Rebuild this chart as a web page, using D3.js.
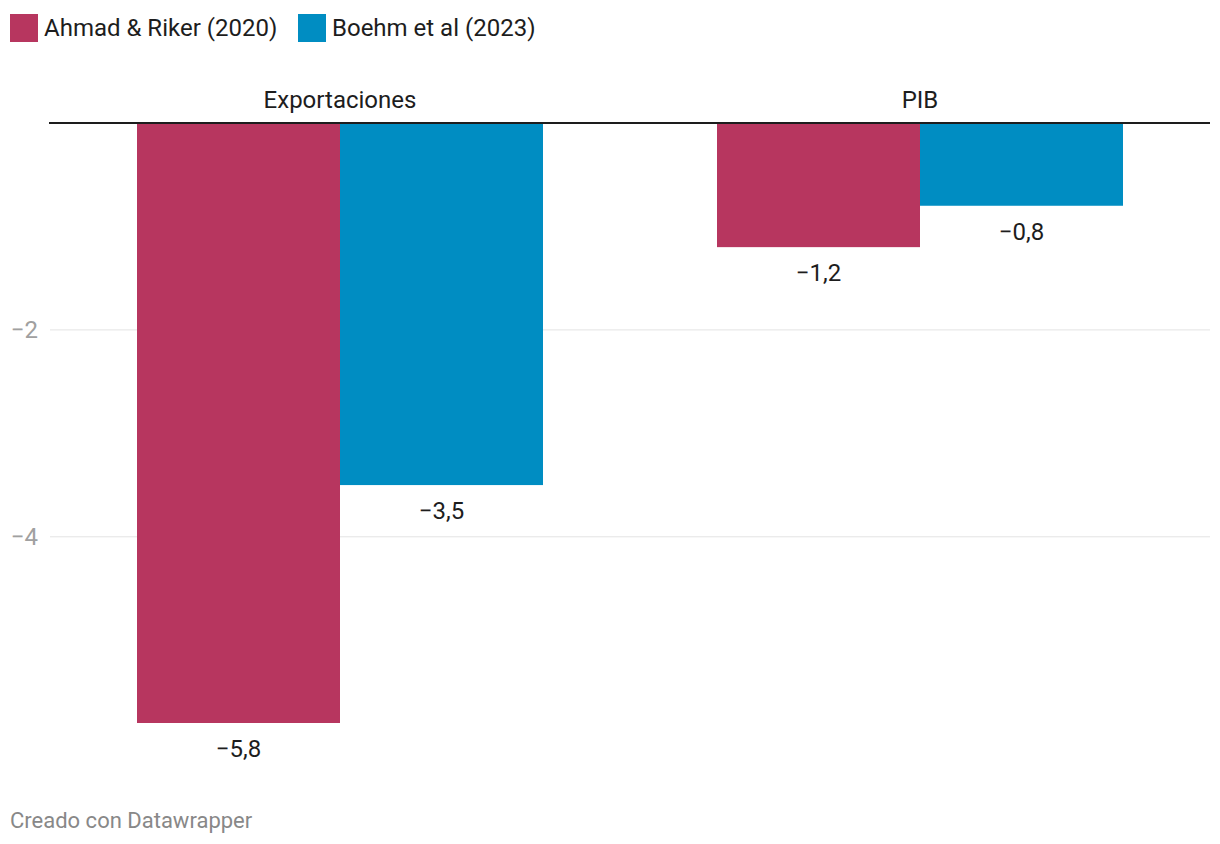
<!DOCTYPE html>
<html>
<head>
<style>
body { margin: 0; background: #fff; }
text { font-family: Roboto, sans-serif; }
</style>
</head>
<body>
<svg width="1220" height="844"></svg>
<script src="https://d3js.org/d3.v7.min.js"></script>
<script>

let categories = ['Exportaciones', 'PIB'];
let series = ['Ahmad & Riker (2020)', 'Boehm et al (2023)'];
let colors = ['#b7365f', '#008dc2'];
let values = [
    [-5.8, -1.2],   // Ahmad & Riker
    [-3.5, -0.8]    // Boehm et al
];
let tickValues = [-2, -4];

let svg = d3.select('svg');
let plotLeft = 50, plotRight = 1210, plotTop = 123;

let x = d3.scaleBand()
    .domain(categories)
    .range([plotLeft, plotRight])
    .paddingInner(0.3)
    .paddingOuter(0.15);

let xs = d3.scaleBand()
    .domain(series)
    .range([0, x.bandwidth()]);

let y = d3.scaleLinear()
    .domain([0, -5.8])
    .range([plotTop, plotTop + 600]);

let fmt = function(v) { return ('\u2212' + d3.format('.1f')(Math.abs(v))).replace('.', ','); };

// gridlines
svg.selectAll('line.grid').data(tickValues).join('line')
    .attr('class', 'grid')
    .attr('x1', plotLeft).attr('x2', plotRight)
    .attr('y1', d => y(d)).attr('y2', d => y(d))
    .attr('stroke', '#e3e3e3')
    .attr('stroke-width', 1);

svg.selectAll('text.tick').data(tickValues).join('text')
    .attr('class', 'tick')
    .attr('x', 38)
    .attr('y', d => y(d) + 8.5)
    .attr('text-anchor', 'end')
    .style('fill', '#a0a0a0')
    .style('font-size', '24px')
    .text(d => '\u2212' + Math.abs(d));

// bars
let rows = [];
series.forEach(function(s, si) {
    categories.forEach(function(c, ci) {
        rows.push({ series: s, si: si, cat: c, value: values[si][ci] });
    });
});

svg.selectAll('rect.bar').data(rows).join('rect')
    .attr('class', 'bar')
    .attr('x', d => x(d.cat) + xs(d.series))
    .attr('y', y(0))
    .attr('width', xs.bandwidth())
    .attr('height', d => y(d.value) - y(0))
    .attr('fill', d => colors[d.si]);

svg.selectAll('text.val').data(rows).join('text')
    .attr('class', 'val')
    .attr('x', d => x(d.cat) + xs(d.series) + xs.bandwidth() / 2)
    .attr('y', d => y(d.value) + 34)
    .attr('text-anchor', 'middle')
    .style('fill', '#1d1d1d')
    .style('font-size', '24px')
    .text(d => fmt(d.value));

// zero line
svg.append('line')
    .attr('x1', 49).attr('x2', plotRight)
    .attr('y1', y(0)).attr('y2', y(0))
    .attr('stroke', '#1d1d1d')
    .attr('stroke-width', 2);

// category labels
svg.selectAll('text.cat').data(categories).join('text')
    .attr('class', 'cat')
    .attr('x', d => x(d) + x.bandwidth() / 2)
    .attr('y', 108)
    .attr('text-anchor', 'middle')
    .style('fill', '#1d1d1d')
    .style('font-size', '24px')
    .text(d => d);

// legend
let legendX = [10, 298];
let lg = svg.selectAll('g.legend').data(series).join('g')
    .attr('class', 'legend')
    .attr('transform', (d, i) => 'translate(' + legendX[i] + ',14)');
lg.append('rect')
    .attr('width', 28).attr('height', 28)
    .attr('fill', (d, i) => colors[i]);
lg.append('text')
    .attr('x', 34).attr('y', 22)
    .style('fill', '#1d1d1d')
    .style('font-size', '24px')
    .text(d => d);

// footer
svg.append('text')
    .attr('x', 10).attr('y', 828)
    .style('fill', '#888')
    .style('font-size', '22px')
    .text('Creado con Datawrapper');

</script>
</body>
</html>
